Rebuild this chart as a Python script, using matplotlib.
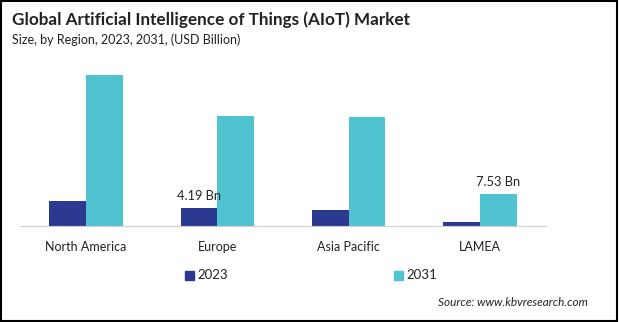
import numpy as np
import matplotlib.pyplot as plt
from matplotlib.patches import Rectangle

# Datos
regiones = ['North America', 'Europe', 'Asia Pacific', 'LAMEA']
v2023 = [5.8, 4.19, 3.7, 0.9]
v2031 = [35.2, 25.6, 25.4, 7.53]
series = ['2023', '2031']
colores = ['#2b3990', '#4fc3cf']

plt.rcParams['font.family'] = ['Lato', 'DejaVu Sans']

fig = plt.figure(figsize=(6.19, 3.22), dpi=100)
ax = fig.add_axes([20.3/619, 1 - 226/322, 525.3/619, 160/322])

x = np.arange(len(regiones))
w = 0.28
b1 = ax.bar(x - w/2, v2023, w, color=colores[0], label=series[0])
b2 = ax.bar(x + w/2, v2031, w, color=colores[1], label=series[1])

ax.set_xlim(-0.5, 3.5)
ax.set_ylim(0, 160 * 4.19 / 18)
ax.set_xticks(x)
ax.set_xticklabels(regiones, fontsize=9, color='#222222')
ax.tick_params(axis='x', length=0, pad=11)
ax.set_yticks([])
for s in ['top', 'right', 'left']:
    ax.spines[s].set_visible(False)
ax.spines['bottom'].set_color('#d0d0d0')

# etiquetas de valores
ax.annotate('4.19 Bn', (x[1] - w/2, v2023[1]), xytext=(0, 4), textcoords='offset points',
            ha='center', va='bottom', fontsize=9.3, color='#222222')
ax.annotate('7.53 Bn', (x[3] + w/2, v2031[3]), xytext=(0, 4), textcoords='offset points',
            ha='center', va='bottom', fontsize=9.3, color='#222222')

# titulo
fig.text(12/619, 1 - 20/322, 'Global Artificial Intelligence of Things (AIoT) Market',
         fontsize=12.3, fontweight='bold', color='#222222', va='center')
fig.text(12/619, 1 - 40/322, 'Size, by Region, 2023, 2031, (USD Billion)',
         fontsize=9, color='#222222', va='center')

# leyenda
for i, px in enumerate([190, 399]):
    fig.patches.append(Rectangle(((px - 5)/619, 1 - 280/322), 9/619, 9/322,
                                 transform=fig.transFigure, color=colores[i]))
    fig.text((px + 7)/619, 1 - 275/322, series[i], fontsize=9.5, color='#222222', va='center')

fig.text(588/619, 1 - 303/322, 'Source: www.kbvresearch.com', fontsize=8.5,
         style='italic', color='#222222', ha='right', va='center')

# borde
fig.patches.append(Rectangle((0.002, 0.003), 0.995, 0.994, transform=fig.transFigure,
                             fill=False, edgecolor='black', linewidth=1.5))

fig.savefig('out.png', dpi=100)
